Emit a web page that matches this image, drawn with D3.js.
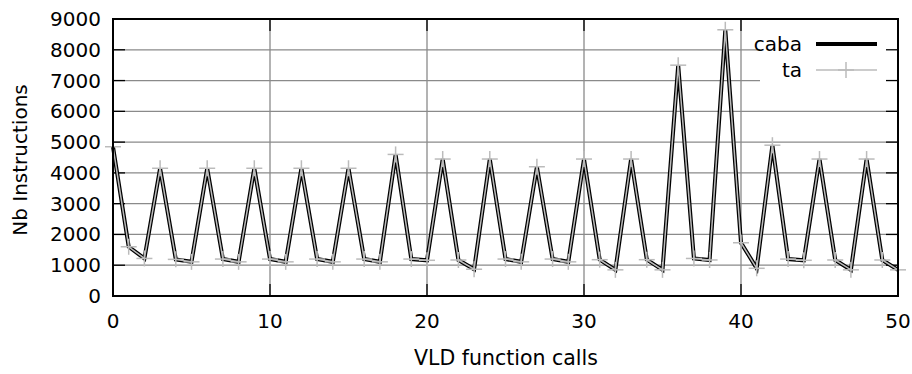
<!DOCTYPE html>
<html>
    <head>
        <meta charset="UTF-8"/>
        <style>
            body { margin: 0; background: #fff; }
            text { font-family: "DejaVu Sans", sans-serif; font-size: 20px; fill: #000; }
        </style>
    </head>
    <body>
        <svg width="912" height="374"></svg>
        <script src="https://d3js.org/d3.v7.min.js" type="text/javascript"></script>
        <script>
            // data (x = call index 0..50)
            let calls = d3.range(0, 51);
            let caba = [4850, 1600, 1220, 4150, 1190, 1110, 4150, 1200, 1110, 4150,
                        1200, 1110, 4150, 1200, 1110, 4150, 1200, 1110, 4600, 1200,
                        1160, 4450, 1170, 870, 4450, 1200, 1110, 4200, 1200, 1110,
                        4450, 1180, 850, 4450, 1180, 850, 7500, 1220, 1170, 8650,
                        1730, 900, 4900, 1200, 1160, 4450, 1170, 850, 4450, 1170, 850];
            let ta = caba.slice();
            let yTicks = d3.range(0, 9001, 1000);
            let xTicks = [0, 10, 20, 30, 40, 50];

            let svg = d3.select("svg");
            let m = {left: 113, right: 898, top: 19, bottom: 296};

            let x = d3.scaleLinear().domain([0, 50]).range([m.left, m.right]);
            let y = d3.scaleLinear().domain([0, 9000]).range([m.bottom, m.top]);

            // grid
            let grid = svg.append("g").attr("stroke", "#8a8a8a").attr("stroke-width", 1.3);
            grid.selectAll(".gx").data(xTicks.slice(1, -1)).enter().append("line")
                .attr("x1", d => x(d)).attr("x2", d => x(d))
                .attr("y1", m.top).attr("y2", m.bottom);
            grid.selectAll(".gy").data(yTicks.slice(1, -1)).enter().append("line")
                .attr("x1", m.left).attr("x2", m.right)
                .attr("y1", d => y(d)).attr("y2", d => y(d));

            // key box blanks the grid behind it
            svg.append("rect").attr("x", 760).attr("y", m.top + 1)
                .attr("width", m.right - 760 - 1).attr("height", 76).attr("fill", "#fff");

            // ticks (inward, mirrored)
            let tl = 12;
            let ax = svg.append("g").attr("stroke", "#000").attr("stroke-width", 1.3);
            ax.selectAll(".ty").data(yTicks).enter().append("line")
                .attr("x1", m.left).attr("x2", m.left + tl)
                .attr("y1", d => y(d)).attr("y2", d => y(d));
            ax.selectAll(".ty2").data(yTicks).enter().append("line")
                .attr("x1", m.right).attr("x2", m.right - tl)
                .attr("y1", d => y(d)).attr("y2", d => y(d));
            ax.selectAll(".tx").data(xTicks).enter().append("line")
                .attr("x1", d => x(d)).attr("x2", d => x(d))
                .attr("y1", m.bottom).attr("y2", m.bottom - tl);
            ax.selectAll(".tx2").data(xTicks).enter().append("line")
                .attr("x1", d => x(d)).attr("x2", d => x(d))
                .attr("y1", m.top).attr("y2", m.top + tl);

            // tick labels
            svg.selectAll(".ly").data(yTicks).enter().append("text")
                .attr("x", m.left - 12).attr("y", d => y(d) + 7)
                .attr("text-anchor", "end").text(d => d);
            svg.selectAll(".lx").data(xTicks).enter().append("text")
                .attr("x", d => x(d)).attr("y", m.bottom + 32)
                .attr("text-anchor", "middle").text(d => d);

            svg.append("text").attr("x", 506).attr("y", 365)
                .attr("text-anchor", "middle").style("font-size", "20.5px").text("VLD function calls");
            svg.append("text").attr("transform", "translate(27,160) rotate(-90)")
                .attr("text-anchor", "middle").text("Nb Instructions");

            // series
            let line = d3.line().x((d, i) => x(calls[i])).y(d => y(d));
            svg.append("path").datum(caba).attr("d", line)
                .attr("fill", "none").attr("stroke", "#000").attr("stroke-width", 4)
                .attr("stroke-linejoin", "miter");
            svg.append("path").datum(ta).attr("d", line)
                .attr("fill", "none").attr("stroke", "#bbb").attr("stroke-width", 1.5);
            let pl = 8;
            let pts = svg.append("g").attr("stroke", "#bbb").attr("stroke-width", 1.5);
            ta.forEach((v, i) => {
                pts.append("line").attr("x1", x(calls[i]) - pl).attr("x2", x(calls[i]) + pl)
                    .attr("y1", y(v)).attr("y2", y(v));
                pts.append("line").attr("x1", x(calls[i])).attr("x2", x(calls[i]))
                    .attr("y1", y(v) - pl).attr("y2", y(v) + pl);
            });

            // border
            svg.append("rect").attr("x", m.left).attr("y", m.top)
                .attr("width", m.right - m.left).attr("height", m.bottom - m.top)
                .attr("fill", "none").attr("stroke", "#000").attr("stroke-width", 2);

            // key
            svg.append("text").attr("x", 802).attr("y", 51).attr("text-anchor", "end").text("caba");
            svg.append("line").attr("x1", 816).attr("x2", 877).attr("y1", 44).attr("y2", 44)
                .attr("stroke", "#000").attr("stroke-width", 4);
            svg.append("text").attr("x", 802).attr("y", 77).attr("text-anchor", "end").text("ta");
            svg.append("line").attr("x1", 816).attr("x2", 877).attr("y1", 70).attr("y2", 70)
                .attr("stroke", "#bbb").attr("stroke-width", 1.5);
            svg.append("line").attr("x1", 846 - pl).attr("x2", 846 + pl).attr("y1", 70).attr("y2", 70)
                .attr("stroke", "#bbb").attr("stroke-width", 1.5);
            svg.append("line").attr("x1", 846).attr("x2", 846).attr("y1", 70 - pl).attr("y2", 70 + pl)
                .attr("stroke", "#bbb").attr("stroke-width", 1.5);
        </script>
    </body>
</html>
